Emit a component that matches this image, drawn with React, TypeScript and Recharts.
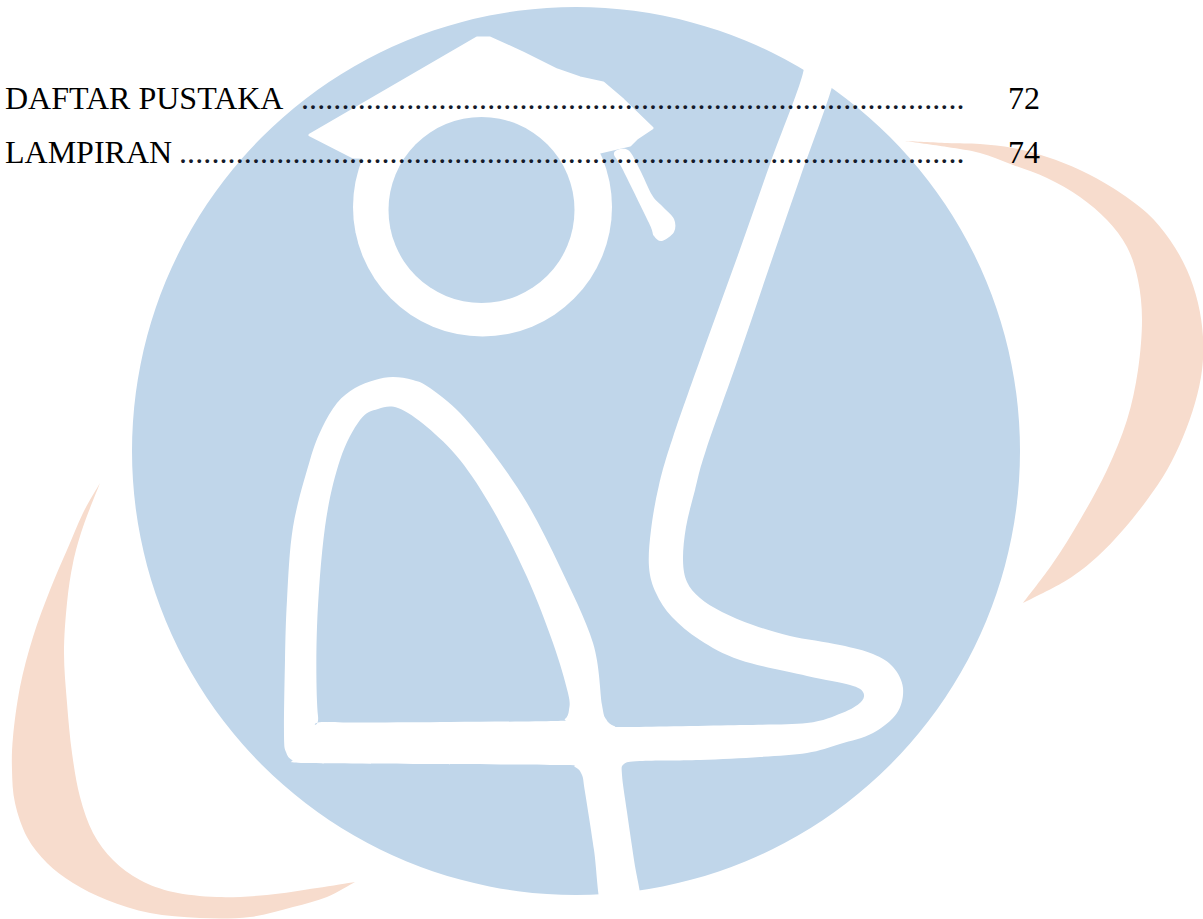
import React from "react";
import { PieChart, Pie, Cell, Customized } from "recharts";

const W = 1203;
const H = 919;

// Table of contents content
const tocEntries = ["DAFTAR PUSTAKA", "LAMPIRAN"];
const tocPages = ["72", "74"];
const leaderCounts = [82, 97];

// Watermark disc (single full slice)
const watermark = [{ name: "logo", value: 1 }];

const BLUE = "#C0D6EA";
const ORANGE = "#F7DCCD";

type P = [number, number];

// decorative outlines of the watermark logo
const rightOuter: P[] = [[905,141],[947,143],[980,144],[1013,148],[1047,157],[1080,170],[1113,188],[1147,213],[1170,240],[1187,270],[1198,303],[1203,337],[1202,370],[1195,403],[1183,437],[1167,470],[1147,500],[1123,530],[1097,557],[1067,580],[1023,603]];
const rightInner: P[] = [[1023,603],[1053,563],[1080,520],[1107,470],[1127,420],[1138,370],[1142,320],[1138,280],[1127,247],[1107,220],[1080,197],[1047,178],[1013,165],[980,153],[947,147],[905,141]];
const leftOuter: P[] = [[100,483],[83,513],[67,550],[50,590],[33,637],[20,687],[13,737],[12,770],[15,803],[27,837],[47,863],[73,883],[107,900],[150,913],[200,918],[250,917],[293,907],[327,897],[355,882]];
const leftInner: P[] = [[355,882],[317,888],[267,895],[217,897],[173,892],[140,880],[113,860],[93,833],[80,797],[72,753],[67,703],[64,653],[67,603],[73,563],[83,527],[100,483]];

const capPts: P[] = [[477,38],[490,38],[523,53],[557,70],[580,78],[603,83],[623,100],[652,128],[637,138],[630,145],[600,152],[480,160],[353,157],[310,135]];
const tasselPts: P[] = [[614,153],[628,150],[640,170],[652,195],[663,207],[674,219],[674,232],[662,241],[654,236],[649,223],[623,170]];

const bodyPts: P[] = [
  [800,45],[803,73],[770,164],[738,255],[705,346],[673,437],[659,485],[651,530],[649,567],[656,593],[672,617],[700,640],[740,660],[807,676],[850,685],[863,692],[861,702],[842,713],[807,723],[740,725],[630,727],[614,726],[606,719],[602,705],
  [593,643],[560,567],[527,503],[493,453],[460,413],[430,388],[413,380],[393,377],[375,380],[355,388],[337,403],[322,428],[310,460],[293,527],[287,600],[285,660],[284,735],[286,752],[292,760],[305,763],[430,764],[560,765],[575,767],[582,775],[585,792],[594,850],[602,910],[621,912],[641,910],[634,860],[627,812],[622,775],[624,764],[640,761],[700,760],[760,757],[807,753],[840,744],[873,733],[897,713],[903,688],[893,667],[873,654],[840,645],[790,636],[753,625],[722,612],[700,598],[687,582],[683,560],[686,527],[695,490],[706,450],[738,359],[769,268],[800,178],[832,87],[838,45],[820,40]
];
const holePts: P[] = [[327,722],[318,716],[317,627],[325,527],[340,460],[360,420],[378,409],[398,408],[427,427],[460,460],[493,510],[527,577],[553,643],[568,693],[569,710],[565,719],[555,721],[450,722]];

function seg(pts: P[], closed: boolean): string {
  const n = pts.length;
  const get = (i: number): P => (closed ? pts[(i + n) % n] : pts[Math.max(0, Math.min(n - 1, i))]);
  const count = closed ? n : n - 1;
  let d = "";
  for (let i = 0; i < count; i++) {
    const p0 = get(i - 1), p1 = get(i), p2 = get(i + 1), p3 = get(i + 2);
    const c1 = [p1[0] + (p2[0] - p0[0]) / 6, p1[1] + (p2[1] - p0[1]) / 6];
    const c2 = [p2[0] - (p3[0] - p1[0]) / 6, p2[1] - (p3[1] - p1[1]) / 6];
    d += ` C${c1[0].toFixed(1)},${c1[1].toFixed(1)} ${c2[0].toFixed(1)},${c2[1].toFixed(1)} ${p2[0]},${p2[1]}`;
  }
  return d;
}
const closedPath = (pts: P[]) => `M${pts[0][0]},${pts[0][1]}` + seg(pts, true) + " Z";
const crescent = (outer: P[], inner: P[]) =>
  `M${outer[0][0]},${outer[0][1]}` + seg(outer, false) + seg(inner, false) + " Z";
const polyPath = (pts: P[]) => "M" + pts.map((p) => p.join(",")).join(" L") + " Z";

const Crescents = () => (
  <g>
    <path d={crescent(rightOuter, rightInner)} fill={ORANGE} />
    <path d={crescent(leftOuter, leftInner)} fill={ORANGE} />
  </g>
);

const Logo = () => (
  <g>
    <path d={closedPath(bodyPts)} fill="#fff" />
    <path d={closedPath(holePts)} fill={BLUE} />
    <circle cx={482.5} cy={207} r={129.5} fill="#fff" />
    <path d={polyPath(capPts)} fill="#fff" stroke="#fff" strokeWidth={3} strokeLinejoin="round" />
    <path d={closedPath(tasselPts)} fill="#fff" />
    <circle cx={481.5} cy={210} r={93} fill={BLUE} />
  </g>
);

const TocText = () => {
  const baselines = [108.5, 163];
  const leaderStart = [301, 179];
  const leaderEnd = 964.5;
  return (
    <g fontFamily="'Liberation Serif', 'Times New Roman', serif" fontSize={32}>
      {tocEntries.map((t, i) => (
        <g key={t}>
          <text x={5} y={baselines[i]} fill="#000">{t}</text>
          <text
            x={leaderStart[i]}
            y={baselines[i]}
            textLength={leaderEnd - leaderStart[i]}
            lengthAdjust="spacing"
            fill="#141a2a"
          >
            {".".repeat(leaderCounts[i])}
          </text>
          <text x={1040} y={baselines[i]} textAnchor="end" fill="#000">{tocPages[i]}</text>
        </g>
      ))}
    </g>
  );
};

export default function App() {
  return (
    <div style={{ position: "absolute", left: 0, top: 0, width: W, height: H, background: "#fff" }}>
      <PieChart width={W} height={H} margin={{ top: 0, right: 0, bottom: 0, left: 0 }}>
        <Customized component={Crescents} />
        <Pie
          data={watermark}
          dataKey="value"
          nameKey="name"
          cx={576}
          cy={451}
          innerRadius={0}
          outerRadius={444}
          startAngle={90}
          endAngle={450}
          stroke="none"
          isAnimationActive={false}
        >
          {watermark.map((d) => (
            <Cell key={d.name} fill={BLUE} />
          ))}
        </Pie>
      </PieChart>
      <svg
        width={W}
        height={H}
        style={{ position: "absolute", left: 0, top: 0, pointerEvents: "none" }}
      >
        <Logo />
        <TocText />
      </svg>
    </div>
  );
}
